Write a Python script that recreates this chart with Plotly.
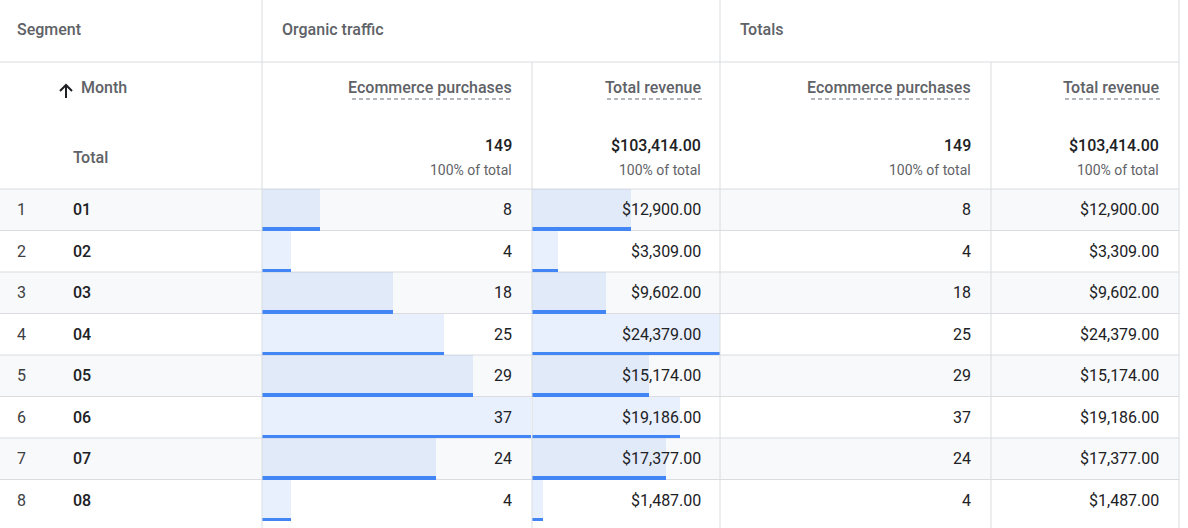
"""
GA-style exploration table: months vs ecommerce purchases / revenue, organic traffic vs totals.
"""

import plotly.graph_objects as go

W, H = 1188, 528

row_numbers = [1, 2, 3, 4, 5, 6, 7, 8]
months = ["01", "02", "03", "04", "05", "06", "07", "08"]
organic_purchases = [8, 4, 18, 25, 29, 37, 24, 4]
organic_revenue = [12900, 3309, 9602, 24379, 15174, 19186, 17377, 1487]
totals_purchases = [8, 4, 18, 25, 29, 37, 24, 4]
totals_revenue = [12900, 3309, 9602, 24379, 15174, 19186, 17377, 1487]

segment_labels = ["Segment", "Organic traffic", "Totals"]
metric_labels = ["Ecommerce purchases", "Total revenue", "Ecommerce purchases", "Total revenue"]

# layout of the table (pixels)
ROW_TOP = 189
ROW_H = 41.5
ROW_BOTTOM = ROW_TOP + ROW_H * len(months)
HEAD1 = 62
RIGHT = 1179

GRID = "#dadce0"
STRIPE = "#f8f9fa"
BLUE = "#4285f4"
BAR_FILL = "rgba(66,133,244,0.12)"
DARK = "#202124"
GREY = "#5f6368"
FONT = "Roboto"
MEDIUM = "Roboto Medium, Roboto"


def px(x):
    return x / W


def py(y):
    return 1 - y / H


def money(v):
    return f"${v:,.2f}"


fig = go.Figure()

# in-cell bars: light fill over the whole row, blue rule along the bottom
for vals, xa in [(organic_purchases, "x2"), (organic_revenue, "x3")]:
    fig.add_trace(go.Bar(
        x=vals, y=row_numbers, orientation="h", width=1,
        marker=dict(color=BAR_FILL, line=dict(width=0)),
        xaxis=xa, yaxis="y2", hoverinfo="skip", showlegend=False,
    ))
    fig.add_trace(go.Bar(
        x=vals, y=row_numbers, orientation="h", width=0.075, offset=0.425,
        marker=dict(color=BLUE, line=dict(width=0)),
        xaxis=xa, yaxis="y2", hoverinfo="skip", showlegend=False,
    ))

shapes = []
# striped rows
for i in range(len(months)):
    if i % 2 == 0:
        y0 = ROW_TOP + i * ROW_H
        shapes.append(dict(
            type="rect", xref="paper", yref="paper", layer="below",
            x0=0, x1=px(RIGHT), y0=py(y0), y1=py(y0 + ROW_H),
            fillcolor=STRIPE, line=dict(width=0),
        ))

# horizontal grid
for y in [HEAD1, ROW_TOP] + [ROW_TOP + ROW_H * (i + 1) for i in range(len(months) - 1)]:
    shapes.append(dict(
        type="line", xref="paper", yref="paper", layer="below",
        x0=0, x1=px(RIGHT), y0=py(y), y1=py(y),
        line=dict(color=GRID, width=1),
    ))

# vertical grid (inner metric splits start below the segment header)
for x, top in [(262, 0), (532, HEAD1), (720, 0), (991, HEAD1), (RIGHT, 0)]:
    shapes.append(dict(
        type="line", xref="paper", yref="paper", layer="above",
        x0=px(x), x1=px(x), y0=py(top), y1=0,
        line=dict(color=GRID, width=1),
    ))

# sort-ascending arrow icon next to "Month"
ax, ay = 66, 84
arrow = (f"M {px(ax)} {py(ay + 14)} L {px(ax)} {py(ay + 1)} "
         f"M {px(ax - 6)} {py(ay + 7)} L {px(ax)} {py(ay + 1)} L {px(ax + 6)} {py(ay + 7)}")
shapes.append(dict(type="path", xref="paper", yref="paper", path=arrow,
                   line=dict(color=DARK, width=2)))

annotations = []


def label(x, y, text, size=16, color=DARK, anchor="left", family=FONT, weight=400):
    annotations.append(dict(
        x=px(x), y=py(y), xref="paper", yref="paper", text=text,
        showarrow=False, xanchor=anchor, yanchor="middle",
        font=dict(family=family, size=size, color=color, weight=weight),
    ))


# top header row
for x, t in zip([15, 280, 738], segment_labels):
    label(x, 30, t, color=GREY, family=MEDIUM)

# metric header row
label(79, 87, "Month", color=GREY, family=MEDIUM)
label(71, 157, "Total", color=GREY, family=MEDIUM)

metric_right = [513, 702, 972, 1160]
metric_width = [161, 95, 161, 95]
col_values = [organic_purchases, organic_revenue, totals_purchases, totals_revenue]
for r, w, t, vals in zip(metric_right, metric_width, metric_labels, col_values):
    label(r + 1, 87, t, color=GREY, anchor="right", family=MEDIUM)
    shapes.append(dict(
        type="line", xref="paper", yref="paper",
        x0=px(r - w), x1=px(r), y0=py(99), y1=py(99),
        line=dict(color="#9aa0a6", width=1.5, dash="4px,3px"),
    ))
    total = sum(vals)
    txt = money(total) if "revenue" in t else f"{total:,}"
    label(r + 1, 145, txt, size=16, anchor="right", family=MEDIUM)
    label(r + 1, 170, "100% of total", size=14, color=GREY, anchor="right")

# body rows
for i, (n, m) in enumerate(zip(row_numbers, months)):
    yc = ROW_TOP + ROW_H * (i + 0.5)
    label(15, yc, str(n), color="#3c4043")
    label(71, yc, m, family=MEDIUM)
    for r, t, vals in zip(metric_right, metric_labels, col_values):
        v = vals[i]
        label(r + 1, yc, money(v) if "revenue" in t else str(v), anchor="right")

axis_off = dict(visible=False, showgrid=False, zeroline=False, fixedrange=True)
fig.update_layout(
    width=W, height=H,
    margin=dict(l=0, r=0, t=0, b=0),
    paper_bgcolor="white", plot_bgcolor="rgba(0,0,0,0)",
    barmode="overlay", bargap=0,
    xaxis2=dict(axis_off, domain=[px(262), px(531)], range=[0, max(organic_purchases)], anchor="y2"),
    xaxis3=dict(axis_off, domain=[px(532), px(720)], range=[0, max(organic_revenue)], anchor="y2"),
    yaxis2=dict(axis_off, domain=[py(ROW_BOTTOM), py(ROW_TOP)],
                range=[len(months) + 0.5, 0.5], anchor="x2"),
    xaxis=dict(axis_off), yaxis=dict(axis_off),
    shapes=shapes, annotations=annotations,
    showlegend=False,
)

# the page body keeps its default 8px margin otherwise
fig.write_html(
    "out.html",
    config={"displayModeBar": False},
    post_script="document.body.style.margin='0';document.body.style.overflow='hidden';",
)
